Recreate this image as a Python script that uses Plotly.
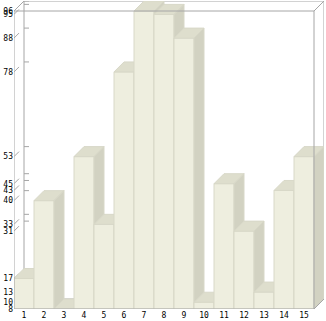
import plotly.graph_objects as go

# ---- data ----
categories = [str(i) for i in range(1, 16)]
values = [17, 40, 8, 53, 33, 78, 96, 95, 88, 10, 45, 31, 13, 43, 53]
tick_values = sorted(set(values))
tick_labels = [str(v) for v in tick_values]

# ---- geometry (axis units) ----
Y_MIN, Y_MAX = 8, 96
PX_PER_Y = 298 / (Y_MAX - Y_MIN)
DX = 0.5                 # depth offset in x units (10 px)
DY = 10 / PX_PER_Y       # depth offset in y units (10 px)
n = len(values)
X0, X1 = 0.5, n + 0.5

FRONT = "#EEEEDF"
TOP = "#DEDECD"
SIDE = "#D2D2C2"
EDGE = "#D8D8C8"
FRAME = "#A6A6A6"

fig = go.Figure()


def line(xs, ys, color=FRAME, width=1):
    fig.add_trace(go.Scatter(x=xs, y=ys, mode="lines",
                             line=dict(color=color, width=width),
                             hoverinfo="skip", showlegend=False))


def poly(xs, ys, fill):
    fig.add_trace(go.Scatter(x=xs + [xs[0]], y=ys + [ys[0]], mode="lines",
                             fill="toself", fillcolor=fill,
                             line=dict(color=EDGE, width=1),
                             hoverinfo="skip", showlegend=False))


# back wall
line([X0 + DX, X0 + DX, X1 + DX, X1 + DX, X0 + DX],
     [Y_MIN + DY, Y_MAX + DY, Y_MAX + DY, Y_MIN + DY, Y_MIN + DY])
# back wall ticks and front slanted ticks
for v in tick_values:
    line([X0 + DX, X0 + DX + 0.25], [v + DY, v + DY])
    line([X0, X0 + 0.25], [v, v + DY / 2])

# bars (painter's order, left to right)
for i, v in enumerate(values):
    cx = i + 1
    l, r = cx - 0.5, cx + 0.5
    poly([l, r, r, l], [Y_MIN, Y_MIN, v, v], FRONT)
    poly([l, r, r + DX, l + DX], [v, v, v + DY, v + DY], TOP)
    poly([r, r + DX, r + DX, r], [Y_MIN, Y_MIN + DY, v + DY, v], SIDE)

# front frame on top
line([X0, X0, X1, X1, X0], [Y_MIN, Y_MAX, Y_MAX, Y_MIN, Y_MIN])
line([X0, X0 + DX], [Y_MAX, Y_MAX + DY])
line([X1, X1 + DX], [Y_MAX, Y_MAX + DY])
line([X1, X1 + DX], [Y_MIN, Y_MIN + DY])

fig.update_layout(
    width=326, height=321,
    margin=dict(l=14, r=2, t=1, b=12),
    paper_bgcolor="white", plot_bgcolor="white",
    font=dict(family="DejaVu Sans Mono", size=8, color="black"),
    xaxis=dict(range=[X0, X1 + DX], tickvals=list(range(1, n + 1)),
               ticktext=categories, showgrid=False, zeroline=False,
               showline=False, ticks="", fixedrange=True),
    yaxis=dict(range=[Y_MIN, Y_MAX + DY], tickvals=tick_values,
               ticktext=tick_labels, showgrid=False, zeroline=False,
               showline=False, ticks="", fixedrange=True),
)

fig.write_html("out.html")
